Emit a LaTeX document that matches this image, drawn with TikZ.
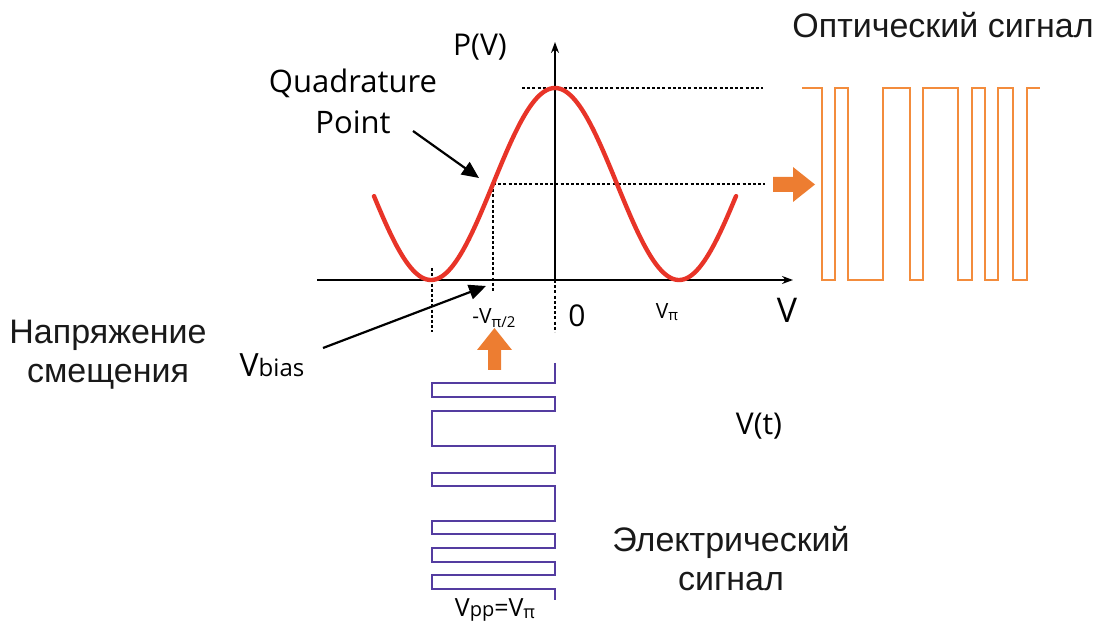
\documentclass[tikz,border=0pt]{standalone}
\usepackage{fontspec}
\setmainfont{Liberation Sans}
\newfontfamily\qf{Open Sans}
\usetikzlibrary{arrows.meta}
\definecolor{curvered}{RGB}{232,52,40}
\definecolor{orangeA}{RGB}{237,125,49}
\definecolor{orangeS}{RGB}{243,140,60}
\definecolor{purpleS}{RGB}{84,60,160}
\tikzset{
  axis/.style={line width=1.4pt, -{Stealth[length=11pt,width=8pt]}},
  guide/.style={line width=1.1pt, dash pattern=on 3pt off 2.2pt},
  pointer/.style={line width=2.2pt, -{Triangle[length=17pt,width=15pt]}},
  cyr/.style={font=\fontsize{34}{39}\selectfont, text=black!90, inner sep=0pt},
  lab/.style={font=\qf\fontsize{31}{36}\selectfont, text=black, inner sep=0pt},
  bigarrow/.style={fill=orangeA, draw=none}
}
\begin{document}
\begin{tikzpicture}[x=1pt,y=-1pt]
\useasboundingbox (0,0) rectangle (1109,628);
% coordinates
\coordinate (o) at (555,280);
\coordinate (xend) at (793,280);
\coordinate (xstart) at (317,280);
\coordinate (ytop) at (555,42);
% guides
\draw[guide] (522,88) -- (763,88);
\draw[guide] (493,184) -- (765,184);
\draw[guide] (493,184) -- (493,293);
\draw[guide] (432,268) -- (432,332);
\draw[guide] (555,280) -- (555,332);
% axes
\draw[axis] (xstart) -- (xend);
\draw[axis] (o) -- (ytop);
% curve
\draw[curvered, line width=4.4pt, line cap=round] plot[domain=374:736, samples=200, smooth] (\x,{280-96*(1+cos(1.451613*(\x-555)))});
% labels
\node[lab, font=\qf\fontsize{30}{34}\selectfont] (pv) at (480,47) {P(V)};
\node[lab, font=\qf\fontsize{34}{38}\selectfont] (vlab) at (787,310) {V};
\node[lab, font=\qf\fontsize{30}{34}\selectfont] (zero) at (577,316) {0};
\node[lab, font=\qf\fontsize{21}{24}\selectfont] (vpi) at (667,312) {V\raisebox{-2pt}{\fontsize{15}{17}\selectfont π}};
\node[lab, font=\qf\fontsize{21}{24}\selectfont] (mvpi) at (494,318) {-V\raisebox{-4pt}{\fontsize{15}{17}\selectfont π/2}};
\node[lab, align=center] (qp) at (353,101) {Quadrature\\[5pt]Point};
\node[lab, font=\qf\fontsize{32}{36}\selectfont] (vb) at (272,365) {V\fontsize{24}{28}\selectfont bias};
\node[cyr, align=center] (nap) at (108,355) {Напряжение\\смещения};
\node[lab, font=\qf\fontsize{30}{34}\selectfont] (vt) at (759,426) {V(t)};
\node[cyr, align=center] (el) at (731,559) {Электрический\\сигнал};
\node[cyr] (opt) at (943,25) {Оптический сигнал};
\node[lab, font=\qf\fontsize{25}{28}\selectfont] (vpp) at (495,610) {V\fontsize{20}{24}\selectfont pp\fontsize{25}{28}\selectfont =V\raisebox{-2pt}{\fontsize{18}{20}\selectfont π}};
% pointers
\coordinate (qa1) at (413,131);
\coordinate (qa2) at (479,178);
\draw[pointer] (qa1) -- (qa2);
\coordinate (vb1) at (323,348);
\coordinate (vb2) at (486,286);
\draw[pointer] (vb1) -- (vb2);
% orange arrows
\fill[bigarrow] (773,177) -- (793,177) -- (793,167) -- (815,184.5) -- (793,202) -- (793,192) -- (773,192) -- cycle;
\fill[bigarrow] (488,370) -- (488,350) -- (477,350) -- (494.5,328) -- (512,350) -- (501,350) -- (501,370) -- cycle;
% optical signal
\draw[orangeS, line width=2pt] (802,88) -- (822,88) -- (822,280) -- (835,280) -- (835,88) -- (848,88) -- (848,280) -- (883,280) -- (883,88) -- (910,88) -- (910,280) -- (923,280) -- (923,88) -- (958,88) -- (958,280) -- (972,280) -- (972,88) -- (985,88) -- (985,280) -- (998,280) -- (998,88) -- (1013,88) -- (1013,280) -- (1027,280) -- (1027,88) -- (1040,88);
% electrical signal
\draw[purpleS, line width=2.4pt] (555,363) -- (555,383) -- (432,383) -- (432,397) -- (555,397) -- (555,411) -- (432,411) -- (432,446) -- (555,446) -- (555,473) -- (432,473) -- (432,486) -- (555,486) -- (555,521) -- (432,521) -- (432,534) -- (555,534) -- (555,548) -- (432,548) -- (432,562) -- (555,562) -- (555,575) -- (432,575) -- (432,589) -- (555,589) -- (555,600);
\end{tikzpicture}
\end{document}
